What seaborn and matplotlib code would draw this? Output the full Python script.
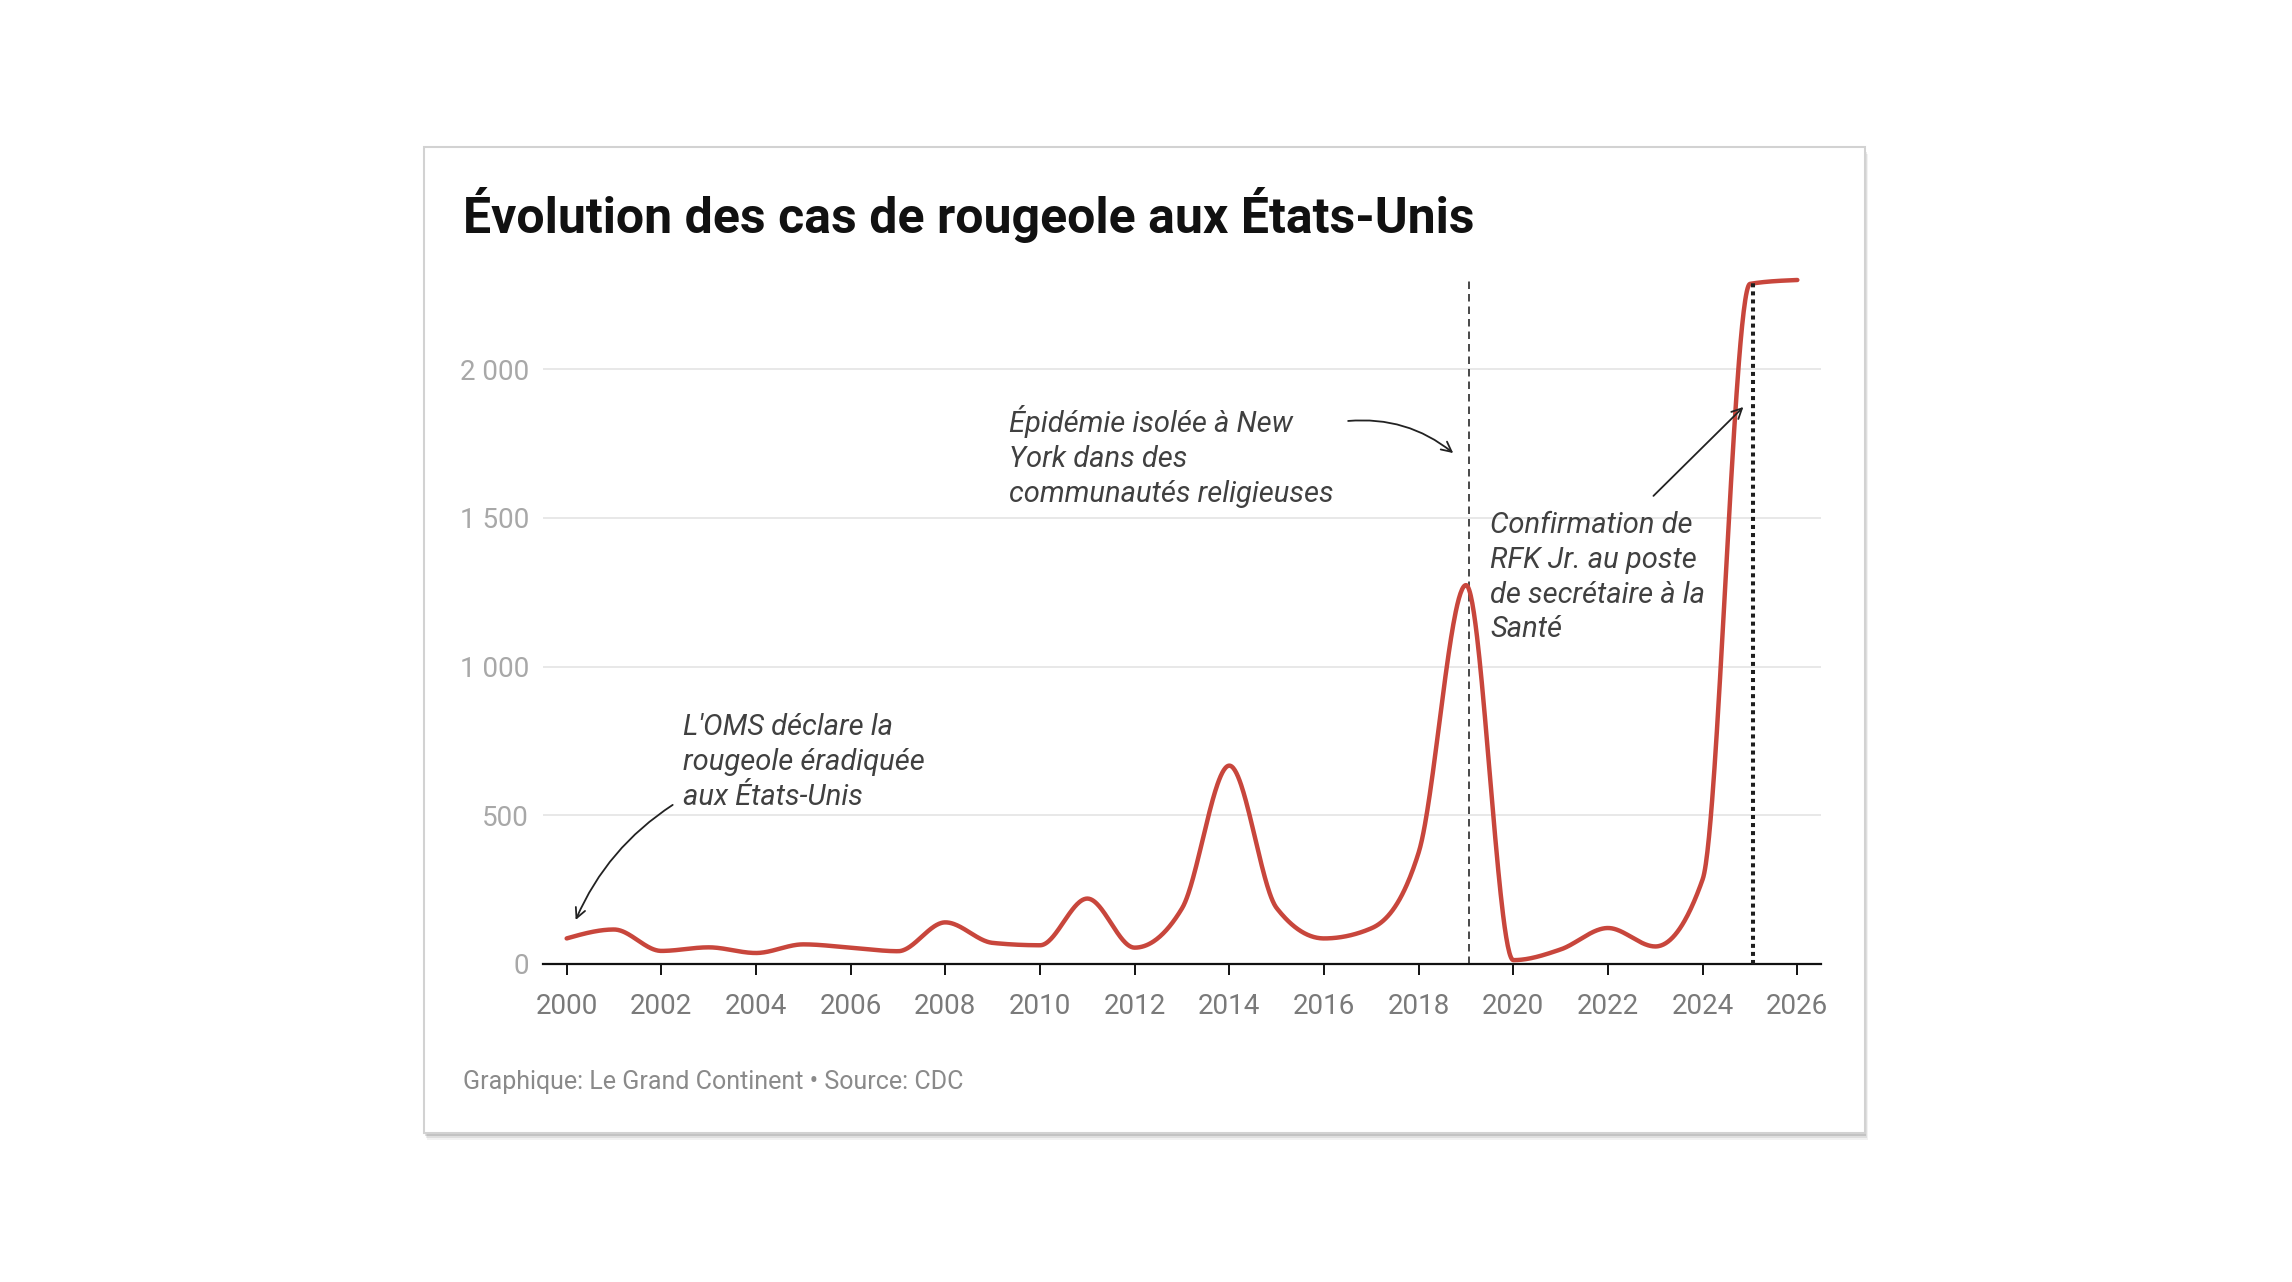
import numpy as np
import pandas as pd
import matplotlib.pyplot as plt
import seaborn as sns
from matplotlib.patches import Rectangle

# Data
years = [2000, 2001, 2002, 2003, 2004, 2005, 2006, 2007, 2008, 2009, 2010, 2011, 2012,
         2013, 2014, 2015, 2016, 2017, 2018, 2019, 2020, 2021, 2022, 2023, 2024, 2025, 2026]
cases = [86, 116, 44, 56, 37, 66, 55, 43, 140, 71, 63, 220, 55,
         187, 667, 188, 86, 120, 375, 1274, 13, 49, 121, 59, 285, 2287, 2300]
year_ticks = list(range(2000, 2027, 2))
case_ticks = [0, 500, 1000, 1500, 2000]
case_tick_labels = ["0", "500", "1 000", "1 500", "2 000"]
event_years = [2019.07, 2025.07]

title = "Évolution des cas de rougeole aux États-Unis"
footer = "Graphique: Le Grand Continent • Source: CDC"
notes = [["L'OMS déclare la", "rougeole éradiquée", "aux États-Unis"],
         ["Épidémie isolée à New", "York dans des", "communautés religieuses"],
         ["Confirmation de", "RFK Jr. au poste", "de secrétaire à la", "Santé"]]
note_arrow_from = [(2002.24, 535), (2016.51, 1826), (2022.96, 1574)]
note_arrow_to = [(2000.19, 148), (2018.73, 1718), (2024.86, 1873)]
note_rad = [0.15, -0.2, 0.0]


def monotone_curve(x, y, n=60):
    # d3 curveMonotoneX style smoothing between the data points
    x = np.asarray(x, float)
    y = np.asarray(y, float)
    h = np.diff(x)
    s = np.diff(y) / h
    m = np.zeros_like(y)
    for i in range(1, len(x) - 1):
        p = (s[i - 1] * h[i] + s[i] * h[i - 1]) / (h[i - 1] + h[i])
        m[i] = (np.sign(s[i - 1]) + np.sign(s[i])) * min(abs(s[i - 1]), abs(s[i]), 0.5 * abs(p))
    m[0] = (3 * s[0] - m[1]) / 2
    m[-1] = (3 * s[-1] - m[-2]) / 2
    xs, ys = [], []
    for i in range(len(x) - 1):
        t = np.linspace(0, 1, n, endpoint=(i == len(x) - 2))
        h00 = 2 * t**3 - 3 * t**2 + 1
        h10 = t**3 - 2 * t**2 + t
        h01 = -2 * t**3 + 3 * t**2
        h11 = t**3 - t**2
        xs.append(x[i] + t * h[i])
        ys.append(h00 * y[i] + h10 * h[i] * m[i] + h01 * y[i + 1] + h11 * h[i] * m[i + 1])
    return np.concatenate(xs), np.concatenate(ys)


sns.set_theme(style="white")
plt.rcParams["font.family"] = ["Roboto", "DejaVu Sans"]

W, H = 2292, 1282
fig = plt.figure(figsize=(W / 100, H / 100), dpi=100)
fig.patch.set_facecolor("white")


def fx(px):
    return px / W


def fy(px):
    return 1 - px / H


# card with a soft shadow
for off, a in [(7, 0.05), (5, 0.08), (3, 0.12)]:
    fig.patches.append(Rectangle((fx(424 + off * 0.4), fy(1133 + off)), fx(1441), 986 / H,
                                 transform=fig.transFigure, facecolor="black", alpha=a,
                                 edgecolor="none", zorder=-3))
fig.patches.append(Rectangle((fx(424), fy(1133)), fx(1441), 986 / H, transform=fig.transFigure,
                             facecolor="white", edgecolor="#d2d2d2", linewidth=1.5, zorder=-2))

ax = fig.add_axes([fx(543), fy(964), fx(1821) - fx(543), (964 - 280) / H], zorder=2)
ax.set_facecolor("none")

xs, ys = monotone_curve(years, cases)
curve = pd.DataFrame({"year": xs, "cases": ys})
sns.lineplot(data=curve, x="year", y="cases", ax=ax, color="#c8463c", linewidth=3.2,
             estimator=None, sort=False, clip_on=False, zorder=3)

ax.axvline(event_years[0], color="#2a2a2a", linewidth=1.2, dashes=(4.5, 3), zorder=2)
ax.axvline(event_years[1], color="#1e1e1e", linewidth=2.9, dashes=(1, 1),
           dash_capstyle="butt", zorder=4)

ax.set_xlim(1999.5, 2026.5)
ax.set_ylim(0, 2300)
ax.set_xticks(year_ticks, labels=[str(y) for y in year_ticks])
ax.set_yticks(case_ticks, labels=case_tick_labels)
ax.set_xlabel("")
ax.set_ylabel("")

sns.despine(ax=ax, left=True, top=True, right=True)
ax.spines["bottom"].set_color("#111111")
ax.spines["bottom"].set_linewidth(1.6)
ax.grid(axis="y", color="#e4e4e4", linewidth=1.2)
ax.grid(axis="x", visible=False)
ax.set_axisbelow(True)

ax.tick_params(axis="x", bottom=True, length=8, width=1.4, color="#111111", pad=13,
               labelsize=20, labelcolor="#7a7a7a")
ax.tick_params(axis="y", left=False, length=0, pad=10, labelsize=20, labelcolor="#a8a8a8")

# annotations: one text per line, baselines 34.8 px apart
note_pos = [(683, 735), (1009, 432), (1490, 533)]
for lines, (tx, ty) in zip(notes, note_pos):
    for i, line in enumerate(lines):
        fig.text(fx(tx), fy(ty + i * 34.8), line, fontsize=21, style="italic",
                 color="#404040", va="baseline", ha="left")
for start, end, rad in zip(note_arrow_from, note_arrow_to, note_rad):
    ax.annotate("", xy=end, xytext=start, annotation_clip=False,
                arrowprops=dict(arrowstyle="->", color="#222222", lw=1.3,
                                mutation_scale=18, shrinkA=0, shrinkB=0,
                                connectionstyle=f"arc3,rad={rad}"))

fig.text(fx(463), fy(233), title, fontsize=36, fontweight="bold", color="#111111", va="baseline")
fig.text(fx(463), fy(1089), footer, fontsize=18, color="#8a8a8a", va="baseline")

fig.savefig("out.png", dpi=100, facecolor="white")
